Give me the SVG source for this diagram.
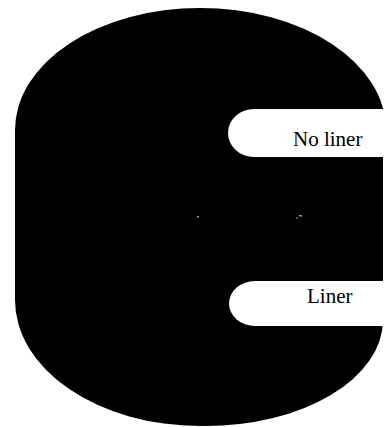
<svg xmlns="http://www.w3.org/2000/svg" width="386" height="427" viewBox="0 0 386 427">
  <style>
    .body { fill: #000000; }
    .slot { fill: #ffffff; }
    .label { font-family: "Liberation Serif", "Times New Roman", serif; font-size: 21px; fill: #000000; }
    .speck { fill: #9a9a9a; }
  </style>
  <rect x="0" y="0" width="386" height="427" fill="#ffffff"/>
  <g id="body">
    <path class="body" d="M15,130 A185,122 0 0 1 200,8 A186,122 0 0 1 386,130 L383,130 L383,320 A178,106 0 0 1 205,426 L200,426 A185,126 0 0 1 15,300 Z"/>
    <rect class="speck" x="197" y="216" width="2" height="1.5"/>
    <rect class="speck" x="299" y="215" width="3" height="1.5"/>
    <rect class="speck" x="296" y="217.5" width="2" height="1"/>
  </g>
  <g id="no-liner">
    <path class="slot" d="M386,109 H254 A26,24 0 0 0 254,157 H386 Z"/>
    <text class="label" x="293" y="146">No liner</text>
  </g>
  <g id="liner">
    <path class="slot" d="M386,281 H255 A26,22.5 0 0 0 255,326 H386 Z"/>
    <text class="label" x="307" y="303">Liner</text>
  </g>
</svg>
